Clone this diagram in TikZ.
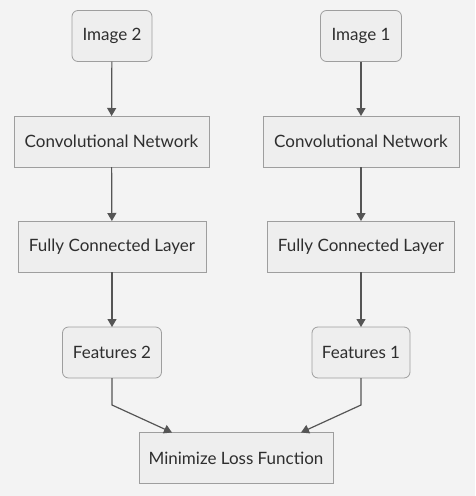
\documentclass[tikz,border=0pt]{standalone}
\usepackage{fontspec}
\setmainfont{Lato}
\usetikzlibrary{arrows.meta}
\definecolor{bgcol}{HTML}{F3F3F3}
\definecolor{boxfill}{HTML}{EEEEEE}
\definecolor{boxline}{HTML}{9E9E9E}
\definecolor{txtcol}{HTML}{2E2E2E}
\definecolor{linecol}{HTML}{555555}
\tikzset{
	stepbox/.style={draw=boxline,fill=boxfill,line width=0.8pt,text=txtcol,font=\fontsize{17}{20}\selectfont,inner sep=0,outer sep=0,minimum height=51pt},
	roundbox/.style={stepbox,rounded corners=6pt},
	flow/.style={draw=linecol,line width=1.2pt,-{Triangle[length=8pt,width=9pt]}}
}
\begin{document}
\begin{tikzpicture}[x=1pt,y=-1pt]
	\fill[bgcol] (0,0) rectangle (475,496);
	\useasboundingbox (0,0) rectangle (475,496);
	\node[roundbox,minimum width=80pt] (img2) at (112,36) {Image 2};
	\node[roundbox,minimum width=81pt] (img1) at (361,36) {Image 1};
	\node[stepbox,minimum width=195pt] (conv2) at (111.5,141.5) {Convolutional Network};
	\node[stepbox,minimum width=196pt] (conv1) at (361,141.5) {Convolutional Network};
	\node[stepbox,minimum width=188pt] (fc2) at (112,246.5) {Fully Connected Layer};
	\node[stepbox,minimum width=187pt] (fc1) at (361,246.5) {Fully Connected Layer};
	\node[roundbox,minimum width=99pt] (feat2) at (112,352.5) {Features 2};
	\node[roundbox,minimum width=98pt] (feat1) at (361,352.5) {Features 1};
	\node[stepbox,minimum width=194pt] (loss) at (236,458) {Minimize Loss Function};
	\coordinate (bend2) at (112,405);
	\coordinate (bend1) at (361,405);
	\draw[flow] (img2) -- (conv2);
	\draw[flow] (conv2) -- (fc2);
	\draw[flow] (fc2) -- (feat2);
	\draw[flow] (img1) -- (conv1);
	\draw[flow] (conv1) -- (fc1);
	\draw[flow] (fc1) -- (feat1);
	\draw[flow] (feat2) -- (bend2) -- (loss.north -| 172,0);
	\draw[flow] (feat1) -- (bend1) -- (loss.north -| 301,0);
\end{tikzpicture}
\end{document}
